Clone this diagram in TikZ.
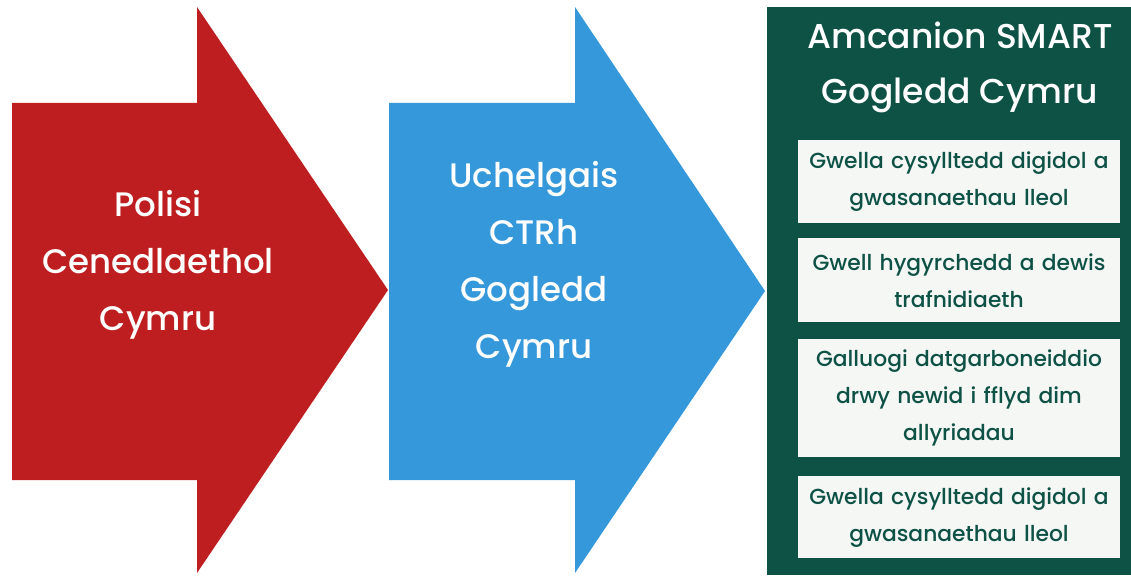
\documentclass[tikz,border=0pt]{standalone}
\usepackage{fontspec}
\setmainfont{Poppins}[UprightFont=* Medium]
\usetikzlibrary{positioning}
\definecolor{polred}{RGB}{190,30,32}
\definecolor{ambblue}{RGB}{52,152,219}
\definecolor{smartgreen}{RGB}{14,82,70}
\definecolor{boxwhite}{RGB}{245,247,245}
\tikzset{
  arrowtext/.style={text=white,align=center,font=\fontsize{34}{57}\selectfont},
  goalbox/.style={fill=boxwhite,text=smartgreen,minimum width=322pt,text width=318pt,
    align=center,inner sep=0pt,font=\fontsize{21.8}{37}\selectfont},
}
\begin{document}
\begin{tikzpicture}[x=1pt,y=-1pt]
\useasboundingbox (0,0) rectangle (1131,575);
% red arrow
\fill[polred](12,103)--(197,103)--(197,7)--(388,290)--(197,573)--(197,480)--(12,480)--cycle;
\node[arrowtext](polisi)at(158,265){Polisi\\Cenedlaethol\\Cymru};
% blue arrow
\fill[ambblue](389,103)--(575,103)--(575,7)--(765,291)--(575,573)--(575,480)--(389,480)--cycle;
\node[arrowtext](uchelgais)at(534,264){Uchelgais\\CTRh\\Gogledd\\Cymru};
% green panel
\fill[smartgreen](767,7)rectangle(1131,575);
\node[text=white,align=center,font=\fontsize{34.5}{55}\selectfont](smart)at(960,67){Amcanion SMART\\Gogledd Cymru};
\node[goalbox,minimum height=83pt](g1)at(959,181.5){Gwella cysylltedd digidol a\\gwasanaethau lleol};
\node[goalbox,minimum height=84pt,below=15pt of g1](g2){Gwell hygyrchedd a dewis\\trafnidiaeth};
\node[goalbox,minimum height=118pt,below=16pt of g2](g3){Galluogi datgarboneiddio\\drwy newid i fflyd dim\\allyriadau};
\node[goalbox,minimum height=82pt,below=19pt of g3](g4){Gwella cysylltedd digidol a\\gwasanaethau lleol};
\end{tikzpicture}
\end{document}
